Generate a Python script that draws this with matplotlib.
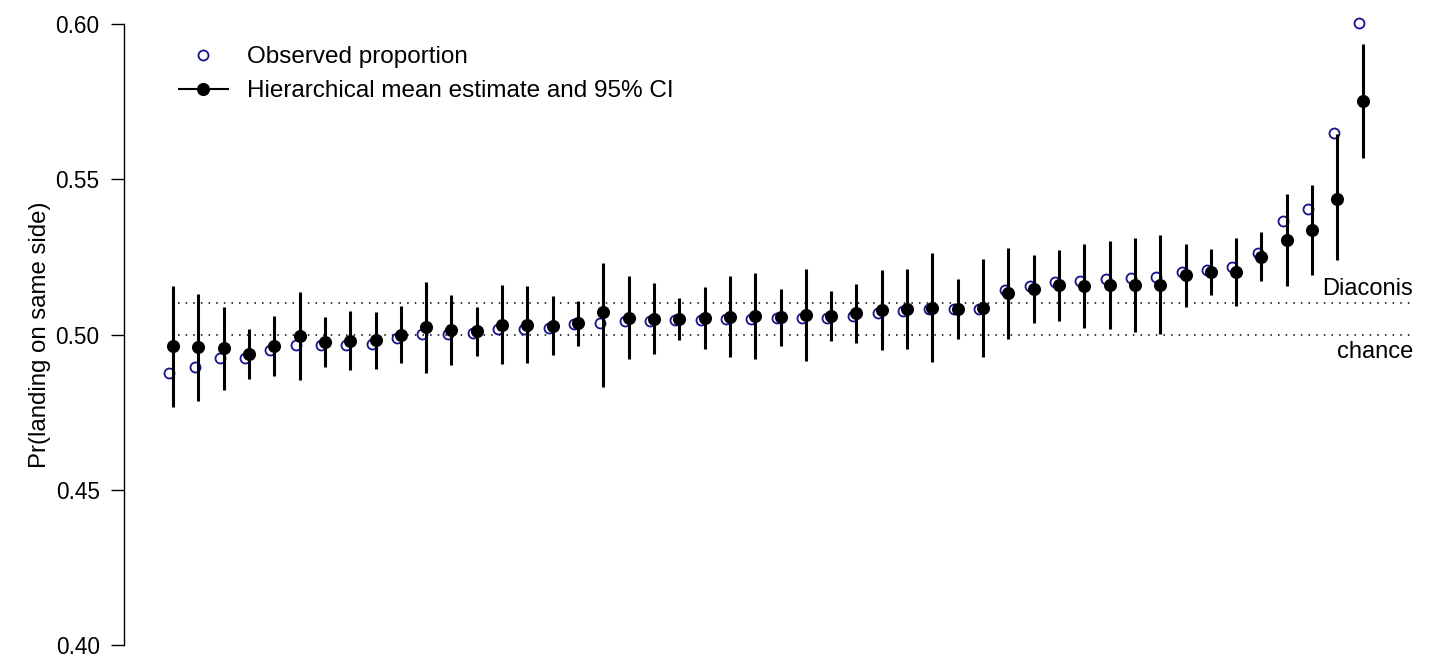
import numpy as np
import matplotlib
matplotlib.use("Agg")
import matplotlib.pyplot as plt
from matplotlib.lines import Line2D

plt.rcParams["font.family"] = ["Liberation Sans", "DejaVu Sans"]

# Hierarchical mean estimates, 95% CI and observed proportions (sorted by estimate)
est = [0.4962, 0.4959, 0.4957, 0.4937, 0.4963, 0.4995, 0.4975, 0.4980, 0.4982, 0.4999,
       0.5023, 0.5015, 0.5010, 0.5032, 0.5032, 0.5028, 0.5036, 0.5071, 0.5053, 0.5051,
       0.5049, 0.5052, 0.5056, 0.5058, 0.5056, 0.5063, 0.5059, 0.5068, 0.5079, 0.5081,
       0.5086, 0.5083, 0.5086, 0.5133, 0.5148, 0.5159, 0.5157, 0.5159, 0.5159, 0.5159,
       0.5191, 0.5200, 0.5201, 0.5250, 0.5303, 0.5338, 0.5437, 0.5751]
ci_hi = [0.5156, 0.5130, 0.5090, 0.5019, 0.5059, 0.5136, 0.5056, 0.5076, 0.5073, 0.5092,
         0.5168, 0.5127, 0.5088, 0.5160, 0.5155, 0.5123, 0.5109, 0.5230, 0.5189, 0.5165,
         0.5119, 0.5154, 0.5187, 0.5197, 0.5148, 0.5210, 0.5139, 0.5164, 0.5208, 0.5210,
         0.5262, 0.5178, 0.5242, 0.5280, 0.5255, 0.5273, 0.5292, 0.5301, 0.5311, 0.5319,
         0.5293, 0.5274, 0.5312, 0.5330, 0.5454, 0.5481, 0.5646, 0.5935]
ci_lo = [0.4767, 0.4786, 0.4821, 0.4857, 0.4867, 0.4853, 0.4896, 0.4886, 0.4889, 0.4907,
         0.4877, 0.4902, 0.4930, 0.4905, 0.4909, 0.4933, 0.4962, 0.4832, 0.4920, 0.4936,
         0.4981, 0.4952, 0.4929, 0.4921, 0.4964, 0.4916, 0.4980, 0.4974, 0.4951, 0.4953,
         0.4910, 0.4987, 0.4929, 0.4985, 0.5038, 0.5043, 0.5020, 0.5019, 0.5007, 0.5001,
         0.5089, 0.5126, 0.5093, 0.5171, 0.5155, 0.5193, 0.5240, 0.5569]
observed = [0.4875, 0.4895, 0.4923, 0.4925, 0.4949, 0.4965, 0.4966, 0.4967, 0.4969, 0.4988,
            0.5001, 0.5001, 0.5004, 0.5019, 0.5018, 0.5022, 0.5034, 0.5036, 0.5043, 0.5044,
            0.5047, 0.5047, 0.5049, 0.5050, 0.5052, 0.5052, 0.5054, 0.5059, 0.5068, 0.5077,
            0.5081, 0.5083, 0.5081, 0.5143, 0.5155, 0.5170, 0.5172, 0.5180, 0.5183, 0.5184,
            0.5202, 0.5208, 0.5217, 0.5262, 0.5367, 0.5404, 0.5650, 0.6002]
chance = 0.50
diaconis = 0.51
yticks = [0.40, 0.45, 0.50, 0.55, 0.60]

W, H = 1456, 658
fig = plt.figure(figsize=(W / 100, H / 100), dpi=100)
ax = fig.add_axes([124 / W, 13 / H, 1296 / W, 621 / H])

idx = np.arange(1, len(est) + 1)
navy = "#14148c"

ax.hlines([chance, diaconis], 1.2, 49.9, colors="black", linestyles=(0, (1, 4)), lw=1.1)
ax.plot(idx - 0.15, observed, "o", mfc="none", mec=navy, mew=1.3, ms=7.2, zorder=3,
        clip_on=False)
ax.vlines(idx, ci_lo, ci_hi, colors="black", lw=2.2, zorder=4)
ax.plot(idx, est, "o", color="black", ms=8.4, zorder=5)

ax.text(50, diaconis + 0.0012, "Diaconis", ha="right", va="bottom", fontsize=17)
ax.text(50, chance - 0.0022, "chance", ha="right", va="top", fontsize=17)

ax.set_xlim(-0.936, 50.264)
ax.set_ylim(0.40, 0.60)
ax.set_yticks(yticks)
ax.set_yticklabels([f"{t:.2f}" for t in yticks], fontsize=16.3)
ax.tick_params(axis="y", length=9.5, width=1.0, pad=8)
ax.set_xticks([])
for s in ["top", "right", "bottom"]:
    ax.spines[s].set_visible(False)
ax.spines["left"].set_linewidth(1.0)

fig.text(40 / W, 1 - 335 / H, "Pr(landing on same side)", rotation=90,
         ha="center", va="center", fontsize=17.3)

handles = [
    Line2D([], [], ls="none", marker="o", mfc="none", mec=navy, mew=1.3, ms=7.2),
    Line2D([], [], color="black", lw=1.5, marker="o", ms=8.4),
]
fig.legend(handles, ["Observed proportion", "Hierarchical mean estimate and 95% CI"],
           loc="upper left", bbox_to_anchor=(179 / W, 1 - 46 / H), frameon=False,
           fontsize=17.5, handlelength=2.0, handletextpad=0.8, labelspacing=0.5,
           borderpad=0, borderaxespad=0)

fig.savefig("out.png", dpi=100)
